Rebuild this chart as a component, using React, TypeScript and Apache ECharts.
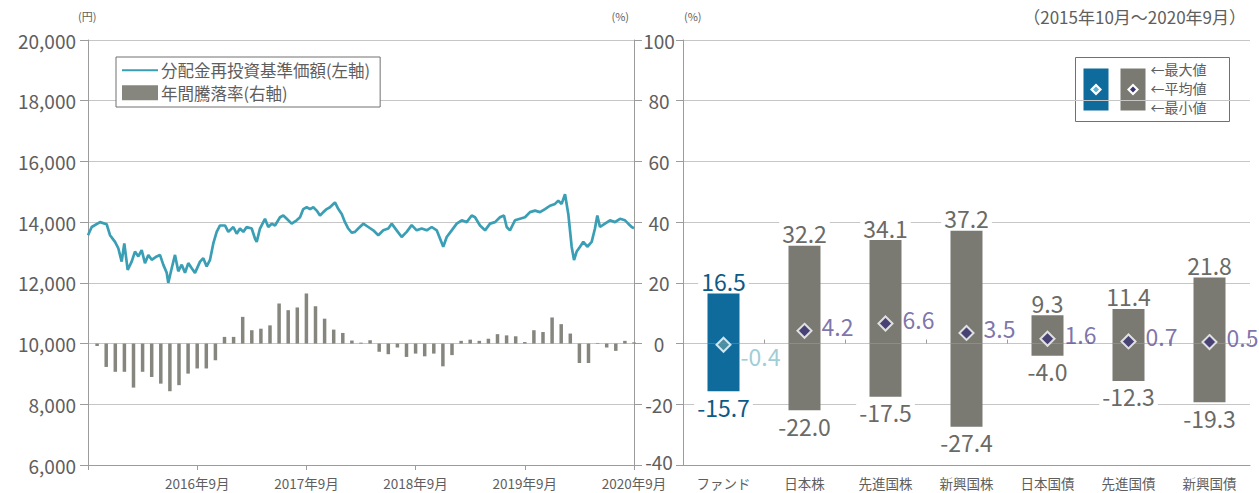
import React, { useEffect, useRef } from "react";
import * as echarts from "echarts";

// ---- Left chart data ----
// [month index from 2015-09-30, NAV (yen)]
const navPoints: [number, number][] = [
  [0, 13570], [0.41, 13840], [1.32, 14000], [2.05, 13930], [2.42, 13570], [2.97, 13350],
  [3.33, 13140], [3.7, 12700], [3.99, 13300], [4.36, 12430], [4.8, 12700], [5.16, 13030],
  [5.53, 12870], [5.9, 13080], [6.26, 12650], [6.63, 12920], [7.0, 12760], [7.55, 12870],
  [7.91, 12920], [8.27, 12600], [8.65, 12330], [8.82, 12000], [9.2, 12480], [9.56, 12920],
  [9.92, 12380], [10.3, 12600], [10.66, 12330], [11.02, 12650], [11.4, 12480], [11.76, 12330],
  [12.31, 12700], [12.67, 12810], [13.04, 12540], [13.41, 12760], [13.77, 13300], [14.14, 13680],
  [14.51, 13890], [15.05, 13890], [15.42, 13680], [15.97, 13840], [16.34, 13620], [16.7, 13790],
  [17.07, 13680], [17.44, 13840], [17.99, 13790], [18.35, 13460], [18.54, 13350], [18.9, 13790],
  [19.45, 14110], [19.81, 13840], [20.19, 13950], [20.55, 13890], [21.1, 14160], [21.46, 14220],
  [21.84, 14110], [22.38, 13950], [22.93, 14060], [23.3, 14160], [23.66, 14430], [24.03, 14490],
  [24.4, 14430], [24.76, 14490], [25.13, 14380], [25.49, 14220], [25.86, 14330], [26.23, 14430],
  [26.59, 14490], [26.96, 14600], [27.14, 14650], [27.51, 14430], [27.88, 14270], [28.24, 14000],
  [28.6, 13790], [28.98, 13650], [29.34, 13680], [29.7, 13790], [30.25, 13950], [30.8, 13840],
  [31.35, 13730], [31.9, 13570], [32.45, 13730], [33.0, 13790], [33.37, 13950], [33.92, 13730],
  [34.47, 13510], [35.02, 13680], [35.57, 13900], [36.12, 13730], [36.67, 13790], [37.22, 13730],
  [37.77, 13840], [38.32, 13730], [38.68, 13460], [39.04, 13190], [39.42, 13510], [39.97, 13730],
  [40.52, 13950], [41.07, 14060], [41.62, 14000], [42.16, 14220], [42.53, 14160], [43.08, 13890],
  [43.63, 13730], [44.18, 13950], [44.73, 14000], [45.27, 14160], [45.71, 14220], [46.01, 13840],
  [46.37, 13730], [46.92, 14060], [47.47, 14110], [48.02, 14160], [48.57, 14330], [49.12, 14380],
  [49.67, 14330], [50.22, 14430], [50.77, 14540], [51.32, 14600], [51.68, 14710], [52.05, 14600],
  [52.42, 14920], [52.78, 14270], [53.15, 13190], [53.41, 12750], [53.7, 13030], [54.07, 13190],
  [54.43, 13350], [54.87, 13190], [55.35, 13350], [55.71, 13790], [55.97, 14220], [56.26, 13840],
  [56.81, 13950], [57.36, 14060], [57.91, 14000], [58.46, 14110], [59.01, 14060], [59.37, 13950],
  [59.75, 13840], [60, 13800],
];

// Annual return (%), month-ends 2015-10 .. 2020-09 (month index 1..60)
const annualReturns = [
  -0.8, -7.7, -9.3, -9.3, -14.5, -9.3, -11.0, -13.2, -15.7, -13.7, -9.9, -8.2,
  -8.2, -5.5, 2.2, 2.2, 8.8, 4.4, 4.9, 6.0, 13.2, 11.0, 11.9, 16.5,
  12.3, 8.2, 4.6, 3.5, 1.0, 0.3, 1.1, -2.7, -3.5, -1.3, -4.4, -3.3,
  -4.2, -3.3, -7.5, -3.8, 0.9, 1.3, 0.9, 1.6, 3.1, 2.7, 2.4, 0.5,
  4.4, 3.8, 8.6, 6.4, 3.3, -6.4, -6.4, 0.2, -1.3, -2.4, 0.9, 0.4,
];

const dateTickLabels = ["2016年9月", "2017年9月", "2018年9月", "2019年9月", "2020年9月"];

// ---- Right chart data ----
const categories = ["ファンド", "日本株", "先進国株", "新興国株", "日本国債", "先進国債", "新興国債"];
const maxValues = [16.5, 32.2, 34.1, 37.2, 9.3, 11.4, 21.8];
const avgValues = [-0.4, 4.2, 6.6, 3.5, 1.6, 0.7, 0.5];
const minValues = [-15.7, -22.0, -17.5, -27.4, -4.0, -12.3, -19.3];

const FONT = '"Noto Sans CJK JP", "Noto Sans", sans-serif';
const GRID_COLOR = "#c6c6c6";
const AXIS_COLOR = "#9c9c9c";
const TEXT = "#5e5e5e";
const LINE_COLOR = "#3a9fb5";
const SMALL_BAR = "#86867f";
const FUND_BLUE = "#0f6b9b";
const FUND_TEXT = "#0d5a86";
const GRAY_BAR = "#7a7a72";
const GRAY_TEXT = "#6a6a66";
const AVG_TEXT = "#5c5096";
const FUND_AVG_TEXT = "#86bfcc";

// legend line icon: a 2px stroke in a 36x15 box (tiny corner dots fix the bbox)
const LINE_ICON =
  "path://M0,0H0.01V0.01H0Z M35.99,14.99H36V15H35.99Z M0,6.5H36V8.5H0Z";

function buildOption(): any {
  return {
    animation: false,
    backgroundColor: "#ffffff",
    textStyle: { fontFamily: FONT },
    grid: [
      { left: 88, right: 625, top: 40, bottom: 28 },
      { left: 683, right: 9, top: 40, bottom: 28 },
    ],
    legend: {
      data: [
        { name: "分配金再投資基準価額(左軸)", icon: LINE_ICON },
        { name: "年間騰落率(右軸)", icon: "rect" },
      ],
      orient: "vertical",
      left: 116,
      top: 57,
      itemWidth: 36,
      itemHeight: 15,
      itemGap: 6,
      padding: [5, 10, 6, 6],
      borderColor: "#707070",
      borderWidth: 1,
      backgroundColor: "#ffffff",
      selectedMode: false,
      textStyle: { fontSize: 16.5, lineHeight: 16, color: TEXT, fontFamily: FONT, padding: [0, 0, 0, -2] },
    },
    xAxis: [
      {
        type: "value",
        gridIndex: 0,
        min: 0,
        max: 60,
        interval: 12,
        axisLine: { show: true, onZero: false, lineStyle: { color: AXIS_COLOR } },
        axisTick: { show: true, length: 5, lineStyle: { color: AXIS_COLOR } },
        axisLabel: {
          fontSize: 13.5,
          lineHeight: 14,
          color: TEXT,
          margin: 11,
          fontFamily: FONT,
          formatter: (v: number) => (v === 0 ? "" : dateTickLabels[v / 12 - 1]),
        },
        splitLine: { show: false },
      },
      {
        type: "category",
        gridIndex: 1,
        data: categories,
        position: "bottom",
        axisLine: { show: true, onZero: false, lineStyle: { color: AXIS_COLOR } },
        axisTick: { show: false },
        axisLabel: { fontSize: 13.5, lineHeight: 14, color: TEXT, margin: 11, fontFamily: FONT },
      },
      {
        type: "category",
        gridIndex: 1,
        data: categories,
        position: "top",
        axisLine: { show: false, onZero: true },
        axisTick: { show: true, length: 4, lineStyle: { color: AXIS_COLOR } },
        axisLabel: { show: false },
      },
    ],
    yAxis: [
      {
        type: "value",
        gridIndex: 0,
        position: "left",
        min: 6000,
        max: 20000,
        interval: 2000,
        axisLine: { show: true, lineStyle: { color: AXIS_COLOR } },
        axisTick: { show: true, length: 8, lineStyle: { color: AXIS_COLOR } },
        axisLabel: {
          fontSize: 19,
          color: TEXT,
          margin: 12,
          fontFamily: FONT,
          formatter: (v: number) => v.toLocaleString("en-US"),
        },
        splitLine: { show: true, lineStyle: { color: GRID_COLOR } },
      },
      {
        type: "value",
        gridIndex: 0,
        position: "right",
        min: -40,
        max: 100,
        interval: 20,
        axisLine: { show: true, lineStyle: { color: AXIS_COLOR } },
        axisTick: { show: true, length: 8, lineStyle: { color: AXIS_COLOR } },
        axisLabel: { show: false },
        splitLine: { show: false },
      },
      {
        type: "value",
        gridIndex: 1,
        position: "left",
        min: -40,
        max: 100,
        interval: 20,
        axisLine: { show: true, lineStyle: { color: AXIS_COLOR } },
        axisTick: { show: true, length: 7, lineStyle: { color: AXIS_COLOR } },
        axisLabel: {
          fontSize: 19,
          lineHeight: 15,
          color: TEXT,
          align: "center",
          margin: 24,
          fontFamily: FONT,
          formatter: (v: number) => (v === -40 ? `{lift|${v}}` : `${v}`),
          rich: {
            lift: { fontSize: 19, lineHeight: 15, color: TEXT, fontFamily: FONT, padding: [0, 0, 7, 0] },
          },
        },
        splitLine: { show: true, lineStyle: { color: GRID_COLOR } },
      },
    ],
    series: [
      {
        name: "年間騰落率(右軸)",
        type: "bar",
        xAxisIndex: 0,
        yAxisIndex: 1,
        barWidth: 3.5,
        data: annualReturns.map((v, i) => [i + 1, v]),
        itemStyle: { color: SMALL_BAR },
        z: 2,
      },
      {
        name: "分配金再投資基準価額(左軸)",
        type: "line",
        xAxisIndex: 0,
        yAxisIndex: 0,
        data: navPoints,
        symbol: "none",
        lineStyle: { color: LINE_COLOR, width: 2.7 },
        itemStyle: { color: LINE_COLOR },
        z: 3,
      },
      {
        name: "最大値",
        type: "bar",
        xAxisIndex: 1,
        yAxisIndex: 2,
        stack: "range",
        barWidth: 32,
        data: maxValues.map((v, i) => ({
          value: v,
          itemStyle: { color: i === 0 ? FUND_BLUE : GRAY_BAR },
          label: { color: i === 0 ? FUND_TEXT : GRAY_TEXT },
        })),
        label: {
          show: true,
          position: "top",
          distance: 1,
          fontSize: 23,
          fontFamily: FONT,
          backgroundColor: "#ffffff",
          padding: [0, 3],
          formatter: (p: any) => Number(p.value).toFixed(1),
        },
      },
      {
        name: "最小値",
        type: "bar",
        xAxisIndex: 1,
        yAxisIndex: 2,
        stack: "range",
        barWidth: 32,
        data: minValues.map((v, i) => ({
          value: v,
          itemStyle: { color: i === 0 ? FUND_BLUE : GRAY_BAR },
          label: { color: i === 0 ? FUND_TEXT : GRAY_TEXT },
        })),
        label: {
          show: true,
          position: "bottom",
          distance: 4,
          fontSize: 23,
          fontFamily: FONT,
          backgroundColor: "#ffffff",
          padding: [0, 3],
          formatter: (p: any) => Number(p.value).toFixed(1),
        },
      },
      {
        name: "平均値",
        type: "scatter",
        xAxisIndex: 1,
        yAxisIndex: 2,
        symbol: "diamond",
        symbolSize: 14,
        z: 5,
        data: avgValues.map((v, i) => ({
          value: v,
          itemStyle: { color: i === 0 ? "#5b97a3" : "#3b3473" },
          label: {
            color: i === 0 ? FUND_AVG_TEXT : AVG_TEXT,
            offset: i === 0 ? [0, 11] : [0, -5],
          },
        })),
        itemStyle: { borderColor: "#ffffff", borderWidth: 2 },
        label: {
          show: true,
          position: "right",
          distance: 9,
          fontSize: 23,
          fontFamily: FONT,
          formatter: (p: any) => Number(p.value).toFixed(1),
        },
      },
    ],
    graphic: [
      { type: "text", left: 78, top: 10, style: { text: "(円)", fontSize: 11, fill: TEXT, fontFamily: FONT } },
      { type: "text", right: 1259 - 629, top: 10, style: { text: "(%)", fontSize: 11, fill: TEXT, fontFamily: FONT } },
      { type: "text", left: 684, top: 10, style: { text: "(%)", fontSize: 11, fill: TEXT, fontFamily: FONT } },
      {
        type: "text",
        right: 13,
        top: 8,
        style: { text: "（2015年10月～2020年9月）", fontSize: 17, fill: TEXT, fontFamily: FONT },
      },
      // Right legend
      {
        type: "group",
        left: 1075,
        top: 57,
        children: [
          { type: "rect", shape: { x: 0, y: 0, width: 154, height: 64 }, style: { fill: "#fff", stroke: "#707070", lineWidth: 1 } },
          { type: "rect", shape: { x: 8, y: 11, width: 25, height: 42 }, style: { fill: FUND_BLUE } },
          { type: "rect", shape: { x: 45, y: 11, width: 25, height: 42 }, style: { fill: GRAY_BAR } },
          { type: "polygon", shape: { points: [[20.5, 26], [26.5, 32], [20.5, 38], [14.5, 32]] }, style: { fill: "#ffffff" } },
          { type: "polygon", shape: { points: [[20.5, 29], [23.5, 32], [20.5, 35], [17.5, 32]] }, style: { fill: "#5fb3d6" } },
          { type: "polygon", shape: { points: [[57.5, 26], [63.5, 32], [57.5, 38], [51.5, 32]] }, style: { fill: "#ffffff" } },
          { type: "polygon", shape: { points: [[57.5, 29], [60.5, 32], [57.5, 35], [54.5, 32]] }, style: { fill: "#3b3473" } },
          { type: "text", x: 75, y: 4, style: { text: "←最大値", fontSize: 14, fill: TEXT, fontFamily: FONT } },
          { type: "text", x: 75, y: 23, style: { text: "←平均値", fontSize: 14, fill: TEXT, fontFamily: FONT } },
          { type: "text", x: 75, y: 42, style: { text: "←最小値", fontSize: 14, fill: TEXT, fontFamily: FONT } },
        ],
      },
    ],
  };
}

export default function App() {
  const ref = useRef<HTMLDivElement>(null);
  useEffect(() => {
    if (!ref.current) return;
    const chart = echarts.init(ref.current, null, { renderer: "svg" });
    chart.setOption(buildOption());
    return () => chart.dispose();
  }, []);
  return (
    <div
      ref={ref}
      style={{ position: "fixed", left: 0, top: 0, width: 1259, height: 493, background: "#fff" }}
    />
  );
}
